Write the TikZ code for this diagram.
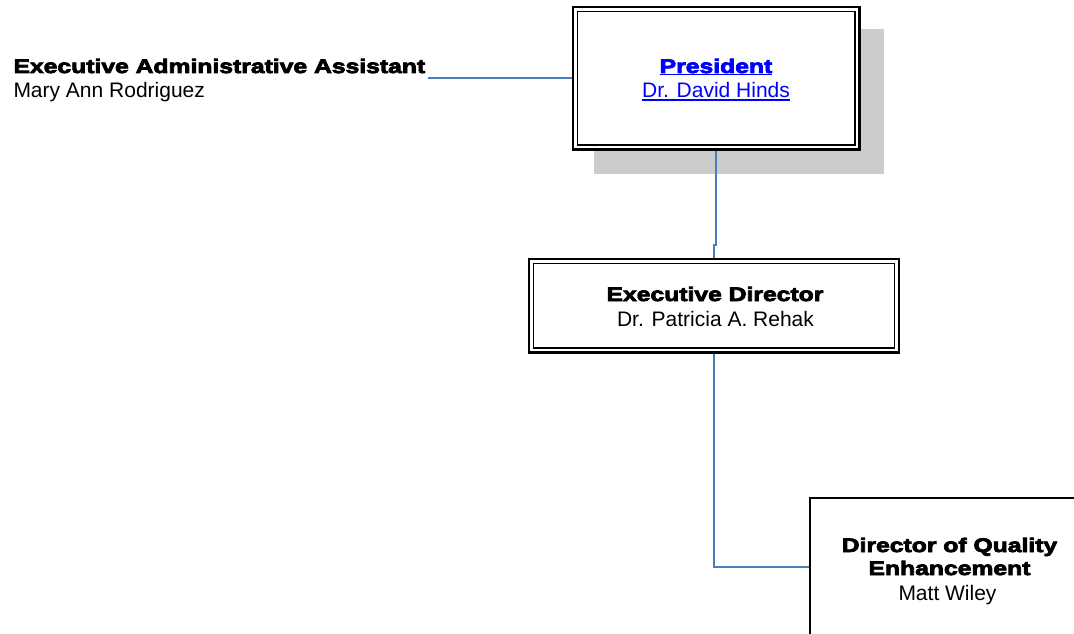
\documentclass[tikz,border=0pt]{standalone}
\usepackage{fontspec}
\setmainfont{Liberation Sans}
\newfontfamily\heavy{Liberation Sans Bold}[FakeStretch=1.26,FakeBold=4]
\definecolor{conn}{RGB}{74,126,187}
\definecolor{shadowgray}{RGB}{204,204,204}
\definecolor{linkblue}{RGB}{0,0,255}
\tikzset{
  obox/.style={draw=black, fill=white, line width=2.2pt, inner sep=0pt, outer sep=0pt},
  innerline/.style={draw=black, line width=1.5pt},
  sbox/.style={draw=black, fill=white, line width=2pt, inner sep=0pt, outer sep=0pt},
  titletext/.style={inner sep=0pt, outer sep=0pt, font=\heavy\fontsize{19.6}{23}\selectfont},
  nametext/.style={inner sep=0pt, outer sep=0pt, font=\fontsize{21}{24}\selectfont},
  linkline/.style={line width=1.3pt, linkblue},
  connector/.style={draw=conn, line width=1.8pt},
}
\begin{document}
\begin{tikzpicture}[x=1pt,y=-1pt]
\useasboundingbox (0,0) rectangle (1074,634);
\clip (0,0) rectangle (1074,634);
% shadow of President box
\fill[shadowgray] (594,29) rectangle (884,174);
\coordinate (jog) at (0,245);
\coordinate (dirin) at (810,567);
% boxes
\node[obox, minimum width=286.5pt, minimum height=142.5pt] (pres) at (716.25,78.25) {};
\draw[innerline] ([shift={(4.5pt,-4.5pt)}]pres.north west) rectangle ([shift={(-4.5pt,4.5pt)}]pres.south east);
\node[obox, minimum width=370pt, minimum height=93.5pt] (exec) at (714,305.75) {};
\draw[innerline] ([shift={(4.5pt,-4.5pt)}]exec.north west) rectangle ([shift={(-4.5pt,4.5pt)}]exec.south east);
\node[sbox, minimum width=280pt, minimum height=164pt] (dir) at (950,580) {};
% assistant text
\node[titletext, anchor=base west] (asst) at (13.5,73) {Executive Administrative Assistant};
\node[nametext, anchor=base west] (asstname) at (13.5,98) {Mary Ann Rodriguez};
% president text
\node[titletext, anchor=base, text=linkblue] (prest) at (716,73) {President};
\node[nametext, anchor=base, text=linkblue] (presn) at (716,98) {Dr. David Hinds};
\draw[linkline] ([yshift=-1.6pt]prest.south west) -- ([yshift=-1.6pt]prest.south east);
\draw[linkline] ([yshift=-1.8pt]presn.south west) -- ([yshift=-1.8pt]presn.south east);
% executive director text
\node[titletext, anchor=base] (exect) at (715,301) {Executive Director};
\node[nametext, anchor=base] (execn) at (715.5,326) {Dr. Patricia A. Rehak};
% director text
\node[titletext, anchor=base] (dirt1) at (949.5,552) {Director of Quality};
\node[titletext, anchor=base] (dirt2) at (949.5,575) {Enhancement};
\node[nametext, anchor=base] (dirn) at (947.5,600) {Matt Wiley};
% connectors
\draw[connector] ([xshift=3pt]asst.east |- pres.west) -- ([xshift=-1.1pt]pres.west);
\draw[connector] ([yshift=-1.1pt]pres.south) -- (pres.south |- jog) -- (exec.north |- jog) -- ([yshift=1.1pt]exec.north);
\draw[connector] ([yshift=-1.1pt]exec.south) |- ([xshift=-1pt]dirin);
\end{tikzpicture}
\end{document}
